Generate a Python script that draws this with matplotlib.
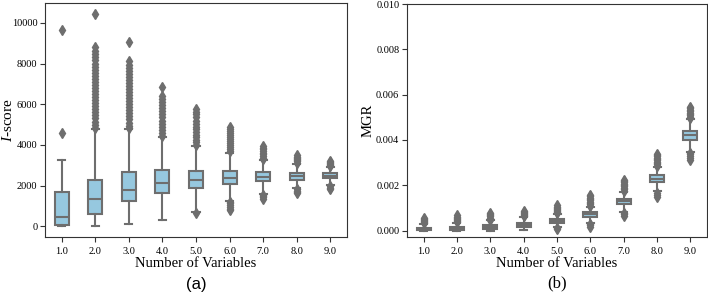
import matplotlib

matplotlib.use("Agg")
import matplotlib.pyplot as plt  # noqa: E402

plt.rcParams["font.family"] = ["Liberation Serif", "DejaVu Serif"]
plt.rcParams["mathtext.fontset"] = "custom"
plt.rcParams["mathtext.it"] = "Liberation Serif:italic"
plt.rcParams["mathtext.rm"] = "Liberation Serif"

n_vars = ["1.0", "2.0", "3.0", "4.0", "5.0", "6.0", "7.0", "8.0", "9.0"]

# panel (a): I-score box statistics
iscore_whislo = [0, 0, 100, 320, 700, 1255, 1590, 1880, 2040]
iscore_q1 = [70, 590, 1225, 1620, 1880, 2105, 2210, 2285, 2355]
iscore_med = [440, 1340, 1810, 2130, 2285, 2400, 2430, 2455, 2480]
iscore_q3 = [1710, 2285, 2675, 2745, 2725, 2720, 2675, 2645, 2600]
iscore_whishi = [3260, 4800, 4770, 4410, 3950, 3620, 3250, 3085, 2920]
iscore_fliers = [
    [4610, 9670],
    [4850, 5000, 5150, 5300, 5450, 5600, 5750, 5900, 6050, 6200, 6350, 6500,
     6650, 6800, 6950, 7100, 7250, 7400, 7550, 7700, 7850, 8000, 8150, 8300,
     8450, 8600, 8800, 10450],
    [4820, 4950, 5100, 5250, 5400, 5550, 5700, 5850, 6000, 6150, 6300, 6450,
     6600, 6750, 6900, 7050, 7200, 7350, 7500, 7650, 7800, 7950, 8100, 9050],
    [4460, 4600, 4750, 4900, 5050, 5200, 5350, 5500, 5650, 5800, 5950, 6100,
     6250, 6380, 6840],
    [650, 4000, 4120, 4250, 4380, 4500, 4630, 4760, 4900, 5050, 5200, 5350,
     5500, 5620, 5780],
    [780, 870, 960, 1050, 1140, 1210, 3680, 3780, 3880, 3980, 4080, 4180,
     4280, 4380, 4480, 4580, 4680, 4800, 4900],
    [1360, 1430, 1500, 1550, 3300, 3380, 3460, 3540, 3620, 3700, 3780, 3860,
     3950],
    [1640, 1700, 1760, 1830, 3130, 3190, 3250, 3310, 3370, 3430, 3520],
    [1840, 1900, 1970, 2960, 3010, 3060, 3110, 3160, 3220],
]

# panel (b): MGR box statistics
mgr_whislo = [0.0, 0.0, 0.0, 0.00003, 0.00015, 0.00035, 0.00084, 0.00175, 0.00349]
mgr_q1 = [0.00001, 0.00004, 0.00008, 0.00015, 0.00032, 0.00062, 0.00116, 0.00215, 0.00400]
mgr_med = [0.00006, 0.00010, 0.00016, 0.00024, 0.00041, 0.00072, 0.00129, 0.00230, 0.00420]
mgr_q3 = [0.00013, 0.00016, 0.00024, 0.00033, 0.00051, 0.00082, 0.00141, 0.00246, 0.00440]
mgr_whishi = [0.00030, 0.00033, 0.00045, 0.00060, 0.00072, 0.00106, 0.00172, 0.00280, 0.00491]
mgr_fliers = [
    [0.00033, 0.00038, 0.00043, 0.00048, 0.00053, 0.00058],
    [0.00036, 0.00041, 0.00046, 0.00051, 0.00056, 0.00061, 0.00067],
    [0.00048, 0.00053, 0.00058, 0.00063, 0.00068, 0.00073, 0.00078],
    [0.00063, 0.00068, 0.00073, 0.00078, 0.00083, 0.00087],
    [0.00006, 0.00010, 0.00076, 0.00081, 0.00086, 0.00091, 0.00096, 0.00101,
     0.00106, 0.00112],
    [0.00018, 0.00024, 0.00030, 0.00110, 0.00116, 0.00122, 0.00128, 0.00134,
     0.00140, 0.00146, 0.00151, 0.00156],
    [0.00066, 0.00072, 0.00078, 0.00177, 0.00183, 0.00189, 0.00195, 0.00201,
     0.00207, 0.00213, 0.00219, 0.00224],
    [0.00150, 0.00158, 0.00166, 0.00286, 0.00292, 0.00298, 0.00304, 0.00310,
     0.00316, 0.00322, 0.00328, 0.00334, 0.00340],
    [0.00312, 0.00320, 0.00328, 0.00336, 0.00343, 0.00497, 0.00503, 0.00509,
     0.00515, 0.00521, 0.00527, 0.00533, 0.00540, 0.00546],
]

BOX_FACE = "#96c8df"
LINE = "#6e6e6e"


def _stats(lo, q1, med, q3, hi, fl):
    return [dict(whislo=a, q1=b, med=c, q3=d, whishi=e, fliers=f, label=lab)
            for a, b, c, d, e, f, lab in zip(lo, q1, med, q3, hi, fl, n_vars)]


def draw_box(ax, stats):
    ax.bxp(stats, positions=range(len(stats)), widths=0.42, patch_artist=True,
           boxprops=dict(facecolor=BOX_FACE, edgecolor=LINE, linewidth=1.5),
           whiskerprops=dict(color=LINE, linewidth=1.5),
           capprops=dict(color=LINE, linewidth=1.5),
           medianprops=dict(color=LINE, linewidth=1.5),
           flierprops=dict(marker="d", markerfacecolor=LINE,
                           markeredgecolor=LINE, markersize=5))
    ax.set_xlim(-0.5, len(stats) - 0.5)
    ax.set_xticks(range(len(stats)))
    ax.set_xticklabels(n_vars)
    ax.tick_params(labelsize=7.5, length=3.5, color="#333333")
    ax.tick_params(axis="y", pad=2)
    ax.set_xlabel("Number of Variables", fontsize=10.5, labelpad=1)
    for s in ax.spines.values():
        s.set_color("#333333")


fig = plt.figure(figsize=(7.08, 2.94), dpi=100)
ax1 = fig.add_axes([45 / 708, 57 / 294, 302 / 708, 234 / 294])
ax2 = fig.add_axes([407 / 708, 57 / 294, 300 / 708, 233 / 294])

draw_box(ax1, _stats(iscore_whislo, iscore_q1, iscore_med, iscore_q3,
                     iscore_whishi, iscore_fliers))
ax1.set_ylabel("$\\mathit{I}$-score", fontsize=11)
ax1.yaxis.set_label_coords(-0.1, 0.5)
ax1.set_yticks([0, 2000, 4000, 6000, 8000, 10000])

draw_box(ax2, _stats(mgr_whislo, mgr_q1, mgr_med, mgr_q3, mgr_whishi,
                     mgr_fliers))
ax2.set_ylim(-0.00028, 0.010)
ax2.set_yticks([0.0, 0.002, 0.004, 0.006, 0.008, 0.010])
ax2.set_yticklabels(["0.000", "0.002", "0.004", "0.006", "0.008", "0.010"])
ax2.set_ylabel("MGR", fontsize=10.5)
ax2.yaxis.set_label_coords(-0.107, 0.5)

fig.text((45 + 151) / 708, 0.008, "(a)", ha="center", va="bottom",
         fontsize=12, family="Liberation Sans")
fig.text((407 + 150) / 708, 0.008, "(b)", ha="center", va="bottom",
         fontsize=12)

fig.savefig("out.png", dpi=100)
